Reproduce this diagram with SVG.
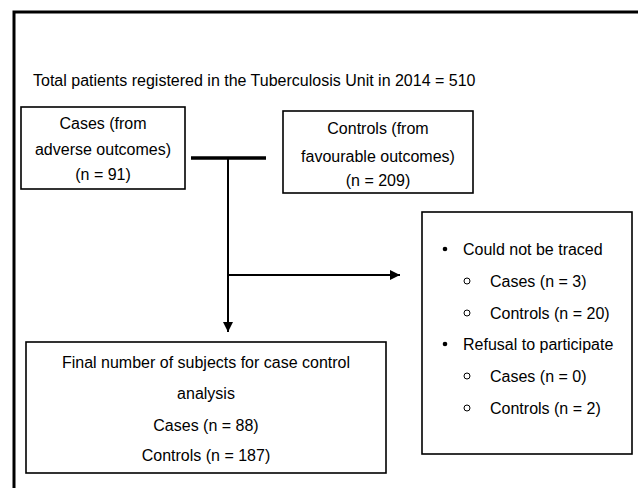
<svg xmlns="http://www.w3.org/2000/svg" width="638" height="488" viewBox="0 0 638 488">
<defs>
<style>
text{font-family:"Liberation Sans",Arial,sans-serif;font-size:16px;fill:#000}
.c{text-anchor:middle}
.box{fill:#fff;stroke:#000;stroke-width:1.6}
.ln{stroke:#000;stroke-width:2;fill:none}
</style>
<marker id="ah" viewBox="0 0 10 10" refX="10" refY="5" markerWidth="11" markerHeight="10" markerUnits="userSpaceOnUse" orient="auto">
<path d="M0,0 L10,5 L0,10 Z" fill="#000"/>
</marker>
</defs>
<rect width="638" height="488" fill="#fff"/>
<path d="M14,492 V12 H642" fill="none" stroke="#000" stroke-width="3"/>
<g id="title"><text x="33" y="86">Total patients registered in the Tuberculosis Unit in 2014 = 510</text></g>
<g id="cases">
<rect class="box" x="21" y="107" width="164" height="82"/>
<text class="c" x="103" y="129">Cases (from</text>
<text class="c" x="103" y="155">adverse outcomes)</text>
<text class="c" x="103" y="180">(n = 91)</text>
</g>
<g id="controls">
<rect class="box" x="283" y="111" width="190" height="82"/>
<text class="c" x="378" y="134">Controls (from</text>
<text class="c" x="378" y="162">favourable outcomes)</text>
<text class="c" x="378" y="186">(n = 209)</text>
</g>
<g id="excluded">
<rect class="box" x="422" y="212" width="210" height="242"/>
<circle cx="445" cy="249" r="2.3" fill="#000"/>
<text x="463" y="255">Could not be traced</text>
<circle cx="467" cy="281" r="3" fill="none" stroke="#000" stroke-width="1"/>
<text x="490" y="287">Cases (n = 3)</text>
<circle cx="467" cy="313" r="3" fill="none" stroke="#000" stroke-width="1"/>
<text x="490" y="319">Controls (n = 20)</text>
<circle cx="445" cy="344" r="2.3" fill="#000"/>
<text x="463" y="350">Refusal to participate</text>
<circle cx="467" cy="376" r="3" fill="none" stroke="#000" stroke-width="1"/>
<text x="490" y="382">Cases (n = 0)</text>
<circle cx="467" cy="408" r="3" fill="none" stroke="#000" stroke-width="1"/>
<text x="490" y="414">Controls (n = 2)</text>
</g>
<g id="final">
<rect class="box" x="26" y="342" width="360" height="131"/>
<text class="c" x="206" y="368">Final number of subjects for case control</text>
<text class="c" x="206" y="399">analysis</text>
<text class="c" x="206" y="431">Cases (n = 88)</text>
<text class="c" x="206" y="461">Controls (n = 187)</text>
</g>
<g id="connectors">
<line x1="191" y1="158" x2="266" y2="158" stroke="#000" stroke-width="3.5"/>
<line class="ln" x1="228" y1="158" x2="228" y2="332" marker-end="url(#ah)"/>
<line class="ln" x1="228" y1="275" x2="400" y2="275" marker-end="url(#ah)"/>
</g>
</svg>
